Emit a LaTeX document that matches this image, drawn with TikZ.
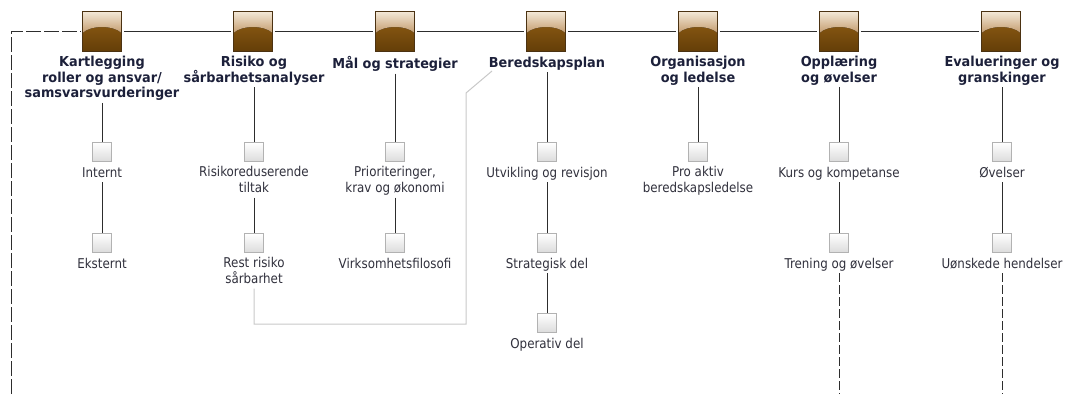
\documentclass[tikz,border=0pt]{standalone}
\usepackage{fontspec}
\setmainfont{DejaVu Sans}
\newfontfamily\hdrfont[FakeStretch=0.94]{DejaVu Sans}
\newfontfamily\bodyfont[FakeStretch=0.88]{DejaVu Sans}
\definecolor{lnc}{RGB}{45,45,45}
\definecolor{hdrc}{RGB}{28,32,58}
\definecolor{bodyc}{RGB}{48,48,60}
\definecolor{brownA}{RGB}{150,98,22}
\definecolor{brownB}{RGB}{100,62,8}
\definecolor{tanA}{RGB}{244,234,218}
\definecolor{tanB}{RGB}{196,156,110}
\definecolor{brownE}{RGB}{75,50,18}
\definecolor{pathc}{RGB}{200,200,200}
\tikzset{
  topbox/.style={minimum width=39pt, minimum height=40pt, inner sep=0pt, draw=brownE, line width=0.8pt,
    path picture={
      \fill[top color=brownA, bottom color=brownB] (path picture bounding box.south west) rectangle (path picture bounding box.north east);
      \fill[top color=tanA, bottom color=tanB]
        (path picture bounding box.north west) -- (path picture bounding box.north east)
        -- ([yshift=-22pt]path picture bounding box.north east)
        .. controls ([xshift=-8pt,yshift=-14pt]path picture bounding box.north east)
        and ([xshift=8pt,yshift=-14pt]path picture bounding box.north west)
        .. ([yshift=-22pt]path picture bounding box.north west) -- cycle;
    }},
  smallbox/.style={minimum size=19pt, inner sep=0pt, draw=gray!60, line width=0.6pt,
    top color=white, bottom color=gray!28},
  hdr/.style={anchor=north, inner sep=0pt, align=center, text=hdrc,
    font=\hdrfont\bfseries\fontsize{13.7}{15.5}\selectfont,
    execute at begin node={\rule{0pt}{11pt}}, execute at end node={\rule[-5pt]{0pt}{5pt}}},
  lbl/.style={anchor=north, inner sep=0pt, align=center, text=bodyc,
    font=\bodyfont\fontsize{13.5}{16}\selectfont,
    execute at begin node={\rule{0pt}{11pt}}, execute at end node={\rule[-5pt]{0pt}{5pt}}},
  conn/.style={draw=lnc, line width=0.9pt},
  dashconn/.style={draw=lnc, line width=0.9pt, dash pattern=on 9pt off 3pt},
  longdash/.style={draw=lnc, line width=0.9pt, dash pattern=on 15pt off 3pt},
  graypath/.style={draw=pathc, line width=1pt}
}
\begin{document}
\begin{tikzpicture}[x=1pt,y=-1pt]
\useasboundingbox (0,0) rectangle (1067,394);
% top boxes
\node[topbox] (b1) at (102,31) {};
\node[topbox] (b2) at (253,31) {};
\node[topbox] (b3) at (395,31) {};
\node[topbox] (b4) at (546,31) {};
\node[topbox] (b5) at (698,31) {};
\node[topbox] (b6) at (839,31) {};
\node[topbox] (b7) at (1001,31) {};
\foreach \a/\b in {b1/b2,b2/b3,b3/b4,b4/b5,b5/b6,b6/b7}{
  \draw[conn, shorten <=2pt, shorten >=2pt] (\a) -- (\b);
}
\coordinate (lb) at (11,394);
\coordinate (lt) at (11,31);
\draw[longdash, shorten >=2pt] (lb) -- (lt) -- (b1);
% headers
\node[hdr] (h1) at (102,56) {Kartlegging\\roller og ansvar/\\samsvarsvurderinger};
\node[hdr] (h2) at (254,56) {Risiko og\\sårbarhetsanalyser};
\node[hdr] (h3) at (395,56) {Mål og strategier};
\node[hdr] (h4) at (547,56) {Beredskapsplan};
\node[hdr] (h5) at (698,56) {Organisasjon\\og ledelse};
\node[hdr] (h6) at (839,56) {Opplæring\\og øvelser};
\node[hdr] (h7) at (1002,56) {Evalueringer og\\granskinger};
% small boxes
\node[smallbox] (s1a) at (102,152) {};
\node[smallbox] (s1b) at (102,243) {};
\node[smallbox] (s2a) at (254,152) {};
\node[smallbox] (s2b) at (254,243) {};
\node[smallbox] (s3a) at (395,152) {};
\node[smallbox] (s3b) at (395,243) {};
\node[smallbox] (s4a) at (547,152) {};
\node[smallbox] (s4b) at (547,243) {};
\node[smallbox] (s4c) at (547,323) {};
\node[smallbox] (s5a) at (698,152) {};
\node[smallbox] (s6a) at (839,152) {};
\node[smallbox] (s6b) at (839,243) {};
\node[smallbox] (s7a) at (1002,152) {};
\node[smallbox] (s7b) at (1002,243) {};
% labels
\node[lbl] (t1a) at (102,166) {Internt};
\node[lbl] (t1b) at (102,257) {Eksternt};
\node[lbl] (t2a) at (254,166) {Risikoreduserende\\tiltak};
\node[lbl] (t2b) at (254,257) {Rest risiko\\sårbarhet};
\node[lbl] (t3a) at (395,166) {Prioriteringer,\\krav og økonomi};
\node[lbl] (t3b) at (395,257) {Virksomhetsfilosofi};
\node[lbl] (t4a) at (547,166) {Utvikling og revisjon};
\node[lbl] (t4b) at (547,257) {Strategisk del};
\node[lbl] (t4c) at (547,337) {Operativ del};
\node[lbl] (t5a) at (698,166) {Pro aktiv\\beredskapsledelse};
\node[lbl] (t6a) at (839,166) {Kurs og kompetanse};
\node[lbl] (t6b) at (839,257) {Trening og øvelser};
\node[lbl] (t7a) at (1002,166) {Øvelser};
\node[lbl] (t7b) at (1002,257) {Uønskede hendelser};
% connectors
\draw[conn] (h1.south) -- (s1a.north);
\draw[conn] (t1a.south) -- (s1b.north);
\draw[conn] (h2.south) -- (s2a.north);
\draw[conn] (t2a.south) -- (s2b.north);
\draw[conn] (h3.south) -- (s3a.north);
\draw[conn] (t3a.south) -- (s3b.north);
\draw[conn] (h4.south) -- (s4a.north);
\draw[conn] (t4a.south) -- (s4b.north);
\draw[conn] (t4b.south) -- (s4c.north);
\draw[conn] (h5.south) -- (s5a.north);
\draw[conn] (h6.south) -- (s6a.north);
\draw[conn] (t6a.south) -- (s6b.north);
\draw[conn] (h7.south) -- (s7a.north);
\draw[conn] (t7a.south) -- (s7b.north);
\coordinate (e6) at (839,394);
\coordinate (e7) at (1002,394);
\draw[dashconn] (t6b.south) -- (e6);
\draw[dashconn] (t7b.south) -- (e7);
% gray link
\coordinate (g1) at (254,324);
\coordinate (g2) at (466,324);
\coordinate (g3) at (466,93);
\coordinate (g4) at (492,71);
\draw[graypath] (t2b.south) -- (g1) -- (g2) -- (g3) -- (g4);
\end{tikzpicture}
\end{document}
